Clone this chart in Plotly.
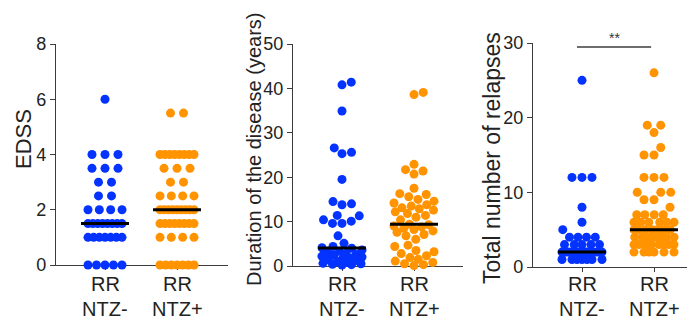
import numpy as np
import plotly.graph_objects as go

# ---------------- data ----------------
groups = [["RR", "NTZ-"], ["RR", "NTZ+"]]

edss_neg = [6, 4, 4, 4, 3.5, 3.5, 3.5, 3, 3, 2.5, 2.5, 2, 2, 2, 2,
            1.5, 1.5, 1.5, 1.5, 1.5, 1.5, 1.5, 1.5,
            1, 1, 1, 1, 1, 1, 1, 0, 0, 0, 0, 0]
edss_pos = [5.5, 5.5, 4, 4, 4, 4, 4, 4, 4, 4, 3.5, 3.5, 3.5, 3, 3,
            2.5, 2.5, 2.5, 2.5, 2, 2, 2, 2, 2, 2, 2, 2, 2,
            1.5, 1.5, 1.5, 1.5, 1.5, 1.5, 1.5, 1.5, 1, 1, 1, 1,
            0, 0, 0, 0, 0, 0, 0]

dur_neg = [41.4, 40.8, 34.9, 26.6, 25.6, 25.3, 19.5, 14.5, 14.0, 13.8,
           11.4, 11.3, 10.4, 10.1, 9.6, 9.6, 6.8, 5.1, 4.4, 4.1,
           4.0, 3.6, 3.3, 3.0, 2.8, 2.6, 2.4, 2.2, 2.0, 1.8,
           1.6, 1.4, 1.2, 1.0, 0.8, 0.6, 0.5, 0.4, 0.3, 0.2]
dur_pos = [39.1, 38.6, 22.9, 21.7, 21.4, 20.7, 17.5, 16.3, 16.1, 15.6,
           15.0, 14.6, 14.2, 13.8, 13.5, 13.1, 12.9, 12.6, 12.2, 11.8,
           11.4, 11.0, 10.4, 9.4, 9.3, 9.0, 8.8, 8.5, 8.2, 7.9,
           7.6, 7.1, 6.8, 6.0, 4.7, 4.4, 3.5, 3.2, 2.8, 2.3,
           1.9, 1.5, 1.1, 0.8, 0.5, 0.3, 0.1]

rel_neg = [25, 12, 12, 12, 8, 6, 5, 4, 4, 4, 4, 3, 3, 3, 3, 3,
           2, 2, 2, 2, 2, 2, 2, 2, 2, 2, 2, 2, 1, 1, 1, 1, 1, 1, 1]
rel_pos = [26, 19, 19, 18, 16, 15, 15, 12, 12, 12, 10, 10, 10, 9, 9, 8,
           7, 7, 7, 7, 6, 6, 6, 6, 6, 6, 5, 5, 5, 5, 5, 5, 5, 5,
           4, 4, 4, 4, 4, 4, 4, 3, 3, 3, 3, 3, 3, 3, 3, 2, 2, 2, 2, 2, 2]

y_titles = ["EDSS", "Duration of the disease (years)", "Total number of relapses"]
y_ticks = [[0, 2, 4, 6, 8], [0, 10, 20, 30, 40, 50], [0, 10, 20, 30]]
sig_label = "**"

# ---------------- styling / geometry ----------------
OFF = 8                      # browser default body margin
W, H = 695 - OFF, 327 - OFF  # figure size that fits the window
BLUE, ORANGE = "#0433FF", "#FF9300"
AX = "#3c3c3c"
FONT = "Liberation Sans, Arial, sans-serif"
PXU = 72.0       # px per category unit
DOT = 9


def fx(X):  # window px -> paper x
    return (X - OFF) / W


def fy(Y):  # window px -> paper y
    return 1 - (Y - OFF) / H


# panel geometry in window px: x0, x1, ytop, ybottom, ymax
geo = [(56, 228, 44, 265, 8), (293, 463, 44, 266, 50), (533, 693, 43, 267, 30)]
title_pos = [(23, 139, 22), (254, 150, 20), (492, 158, 23)]


def row_layout(vals, gap=13.0, span=34.0):
    vals = np.asarray(vals, float)
    off = np.zeros(len(vals))
    for v in np.unique(vals):
        idx = np.where(vals == v)[0]
        n = len(idx)
        s = min(gap, span / (n - 1)) if n > 1 else 0
        off[idx] = (np.arange(n) - (n - 1) / 2) * s
    return off


def swarm(vals, ppu, d=9.5, maxhalf=20.0):
    vals = np.asarray(vals, float)
    order = np.argsort(vals, kind="stable")
    off = np.zeros(len(vals))
    placed = []
    grid = np.arange(-maxhalf, maxhalf + 1e-9, 0.25)
    for i in order:
        y = vals[i] * ppu
        near = [(px, py) for px, py in placed if abs(py - y) < d]
        if not near:
            x = 0.0
        else:
            dist = np.full(grid.shape, np.inf)
            for px, py in near:
                dist = np.minimum(dist, np.hypot(grid - px, y - py))
            ok = dist >= d - 1e-6
            nl = sum(1 for px, _ in placed if px < 0)
            nr = sum(1 for px, _ in placed if px > 0)
            pref = -1 if nl < nr else 1
            if ok.any():
                cand = grid[ok]
                key = np.abs(cand) + 0.01 * (np.sign(cand) != pref)
                x = cand[np.argmin(key)]
            else:
                key = -dist + 0.001 * np.abs(grid)
                x = grid[np.argmin(key)]
        off[i] = x
        placed.append((x, y))
    return off


fig = go.Figure()
datasets = [(edss_neg, edss_pos), (dur_neg, dur_pos), (rel_neg, rel_pos)]

for p, (neg, pos) in enumerate(datasets):
    x0, x1, yt, yb, ymax = geo[p]
    ppu = (yb - yt) / ymax
    xa = "x" if p == 0 else f"x{p+1}"
    ya = "y" if p == 0 else f"y{p+1}"
    for g, (vals, col) in enumerate([(neg, BLUE), (pos, ORANGE)]):
        if p == 0:
            off = row_layout(vals)
        else:
            off = swarm(vals, ppu, d=9.5 if p == 1 else 10.0, maxhalf=20.0)
        fig.add_trace(go.Scatter(
            x=g + off / PXU, y=vals, mode="markers", xaxis=xa, yaxis=ya,
            marker=dict(size=DOT, color=col, line=dict(width=0)),
            cliponaxis=False, showlegend=False, hoverinfo="y"))
    for g, vals in enumerate([neg, pos]):
        med = float(np.median(vals))
        fig.add_trace(go.Scatter(
            x=[g - 0.333, g + 0.333], y=[med, med], mode="lines",
            xaxis=xa, yaxis=ya, line=dict(color="black", width=3),
            cliponaxis=False, showlegend=False, hoverinfo="skip"))
    # category labels
    for g, lines in enumerate(groups):
        for li, (txt, yy) in enumerate(zip(lines, [284, 309])):
            fig.add_annotation(x=g, y=fy(yy), xref=xa, yref="paper",
                               text=txt, showarrow=False, xanchor="center",
                               yanchor="middle",
                               font=dict(family=FONT, size=20, color="#222"))

    left = -(49.0) / PXU
    right = left + (x1 - x0) / PXU
    xkey = "xaxis" if p == 0 else f"xaxis{p+1}"
    ykey = "yaxis" if p == 0 else f"yaxis{p+1}"
    fig.layout[xkey] = dict(
        domain=[fx(x0), fx(x1)], range=[left, right], anchor=ya,
        tickvals=[0, 1], showticklabels=False, showline=True, linecolor=AX,
        linewidth=1.3, ticks="outside", ticklen=4, tickwidth=1.3,
        tickcolor=AX, showgrid=False, zeroline=False, layer="below traces",
        automargin=False, fixedrange=True)
    fig.layout[ykey] = dict(
        domain=[fy(yb), fy(yt)], range=[0, ymax], anchor=xa,
        tickvals=y_ticks[p], showline=True, linecolor=AX, linewidth=1.3,
        ticks="outside", ticklen=5, tickwidth=1.3, tickcolor=AX,
        showgrid=False, zeroline=False, layer="below traces",
        automargin=False,
        tickfont=dict(family=FONT, size=18, color="#222"), fixedrange=True)
    tx, ty, ts = title_pos[p]
    fig.add_annotation(x=fx(tx), y=fy(ty), xref="paper", yref="paper",
                       text=y_titles[p], textangle=-90, showarrow=False,
                       xanchor="center", yanchor="middle",
                       font=dict(family=FONT, size=ts, color="#222"))

# significance bar on panel 3
fig.add_shape(type="line", xref="x3", yref="paper", x0=-0.07, x1=0.96,
              y0=fy(47), y1=fy(47), line=dict(color=AX, width=1.3))
fig.add_annotation(x=0.445, y=fy(38), xref="x3", yref="paper",
                   text=sig_label, showarrow=False, xanchor="center",
                   yanchor="middle", font=dict(family=FONT, size=14, color="#333"))

fig.update_layout(width=W, height=H, margin=dict(l=0, r=0, t=0, b=0),
                  paper_bgcolor="white", plot_bgcolor="white",
                  showlegend=False)
fig.write_html("out.html")
